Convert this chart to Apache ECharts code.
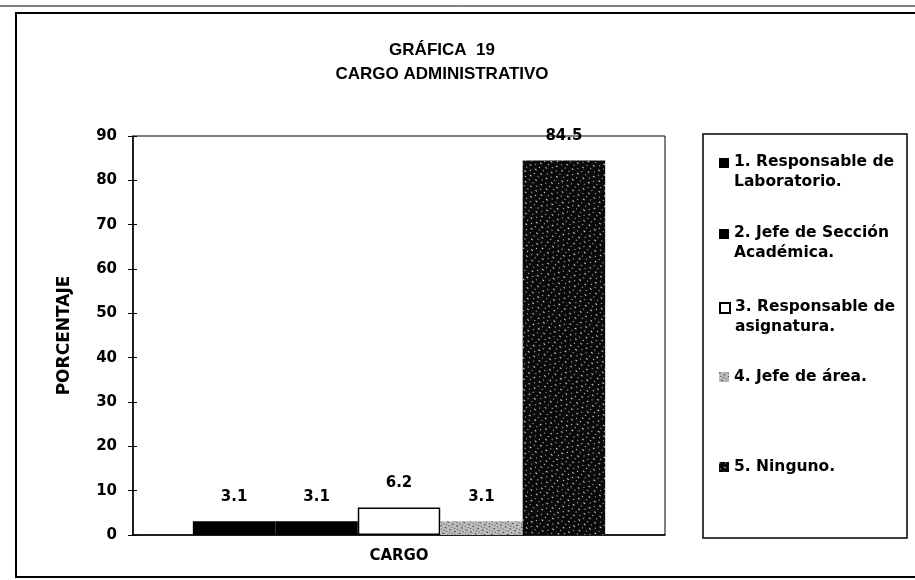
<!DOCTYPE html>
<html>
<head>
<meta charset="utf-8">
<script src="https://cdn.jsdelivr.net/npm/echarts@6/dist/echarts.min.js"></script>
<style>html,body{margin:0;padding:0;background:#fff}#c{width:915px;height:580px}</style>
</head>
<body>
<div id="c"></div>
<script>
const categories = ['CARGO'];
const seriesNames = [
  '1. Responsable de\nLaboratorio.',
  '2. Jefe de Sección\nAcadémica.',
  '3. Responsable de\nasignatura.',
  '4. Jefe de área.',
  '5. Ninguno.'
];
const values = [3.1, 3.1, 6.2, 3.1, 84.5];
const titleLines = ['GRÁFICA  19', 'CARGO ADMINISTRATIVO'];
const yName = 'PORCENTAJE';

const FONT = 'DejaVu Sans';
const styles = [
  { color: '#000', borderColor: '#000', borderWidth: 0 },
  { color: '#000', borderColor: '#000', borderWidth: 0 },
  { color: '#fff', borderColor: '#000', borderWidth: 1.5 },
  { color: '#bdbdbd', borderColor: '#333', borderWidth: 0,
    decal: { symbol: 'rect', symbolSize: 0.8, color: '#222', dashArrayX: [[1, 2], [2, 3]], dashArrayY: [1, 2], rotation: 0.4 } },
  { color: '#0a0a0a', borderColor: '#000', borderWidth: 0,
    decal: { symbol: 'rect', symbolSize: 0.9, color: 'rgba(255,255,255,0.9)', dashArrayX: [[1, 4], [2, 5]], dashArrayY: [1, 3], rotation: 0.7 } }
];

const legendTops = [152, 223, 297, 367, 457];
const tallIcon = 'path://M0,0L10,0L10,10L0,10Z M0,28L0,28';

const chart = echarts.init(document.getElementById('c'), null, { renderer: 'canvas' });

const series = values.map((v, i) => ({
  name: seriesNames[i],
  type: 'bar',
  data: [v],
  barGap: '0%',
  barCategoryGap: '22.5%',
  itemStyle: styles[i],
  label: {
    show: true, position: 'top', distance: 17,
    fontFamily: FONT, fontWeight: 'bold', fontSize: 15, color: '#000'
  },
  emphasis: { disabled: true }
}));

const legends = seriesNames.map((n, i) => {
  const twoLines = n.indexOf('\n') >= 0;
  return {
    data: [n],
    orient: 'vertical',
    left: 719,
    top: legendTops[i],
    padding: 0,
    icon: twoLines ? tallIcon : 'rect',
    itemWidth: 10,
    itemHeight: twoLines ? 28 : 10,
    selectedMode: false,
    textStyle: { fontFamily: FONT, fontWeight: 'bold', fontSize: 15.5, color: '#000', lineHeight: 20 }
  };
});

chart.setOption({
  aria: { enabled: true, decal: { show: false } },
  animation: false,
  backgroundColor: '#fff',
  title: {
    text: titleLines.join('\n'),
    left: 437, top: 33, textAlign: 'center',
    textStyle: { fontFamily: 'Liberation Sans', fontWeight: 'bold', fontSize: 17, lineHeight: 24, color: '#000' }
  },
  legend: legends,
  grid: {
    left: 133, right: 250, top: 136, bottom: 45,
    show: true, borderColor: '#000', borderWidth: 1, backgroundColor: 'transparent'
  },
  xAxis: {
    type: 'category',
    data: categories,
    axisLine: { lineStyle: { color: '#000', width: 1.5 } },
    axisTick: { show: false },
    axisLabel: { margin: 14, fontFamily: FONT, fontWeight: 'bold', fontSize: 15, color: '#000' }
  },
  yAxis: [{
    type: 'value',
    min: 0, max: 90, interval: 10,
    name: yName,
    nameLocation: 'middle',
    nameGap: 60,
    nameTextStyle: { fontFamily: FONT, fontWeight: 'bold', fontSize: 17, color: '#000' },
    axisLine: { show: true, lineStyle: { color: '#000', width: 1.5 } },
    axisTick: { show: true, length: 5, lineStyle: { color: '#000' } },
    axisLabel: { margin: 16, fontFamily: FONT, fontWeight: 'bold', fontSize: 15, color: '#000' },
    splitLine: { show: false }
  }, {
    type: 'value',
    position: 'left',
    min: 0, max: 90, interval: 10,
    axisLine: { show: false },
    axisTick: { show: true, inside: true, length: 4, lineStyle: { color: '#000' } },
    axisLabel: { show: false },
    splitLine: { show: false }
  }],
  graphic: [
    { type: 'rect', shape: { x: 16, y: 13, width: 1000, height: 564 }, style: { fill: 'none', stroke: '#000', lineWidth: 2 }, silent: true },
    { type: 'line', shape: { x1: 0, y1: 6, x2: 915, y2: 6 }, style: { stroke: '#000', lineWidth: 1 }, silent: true },
    { type: 'rect', shape: { x: 703, y: 134, width: 204, height: 404 }, style: { fill: 'none', stroke: '#000', lineWidth: 1.5 }, silent: true }
  ],
  series: series
});
</script>
</body>
</html>
